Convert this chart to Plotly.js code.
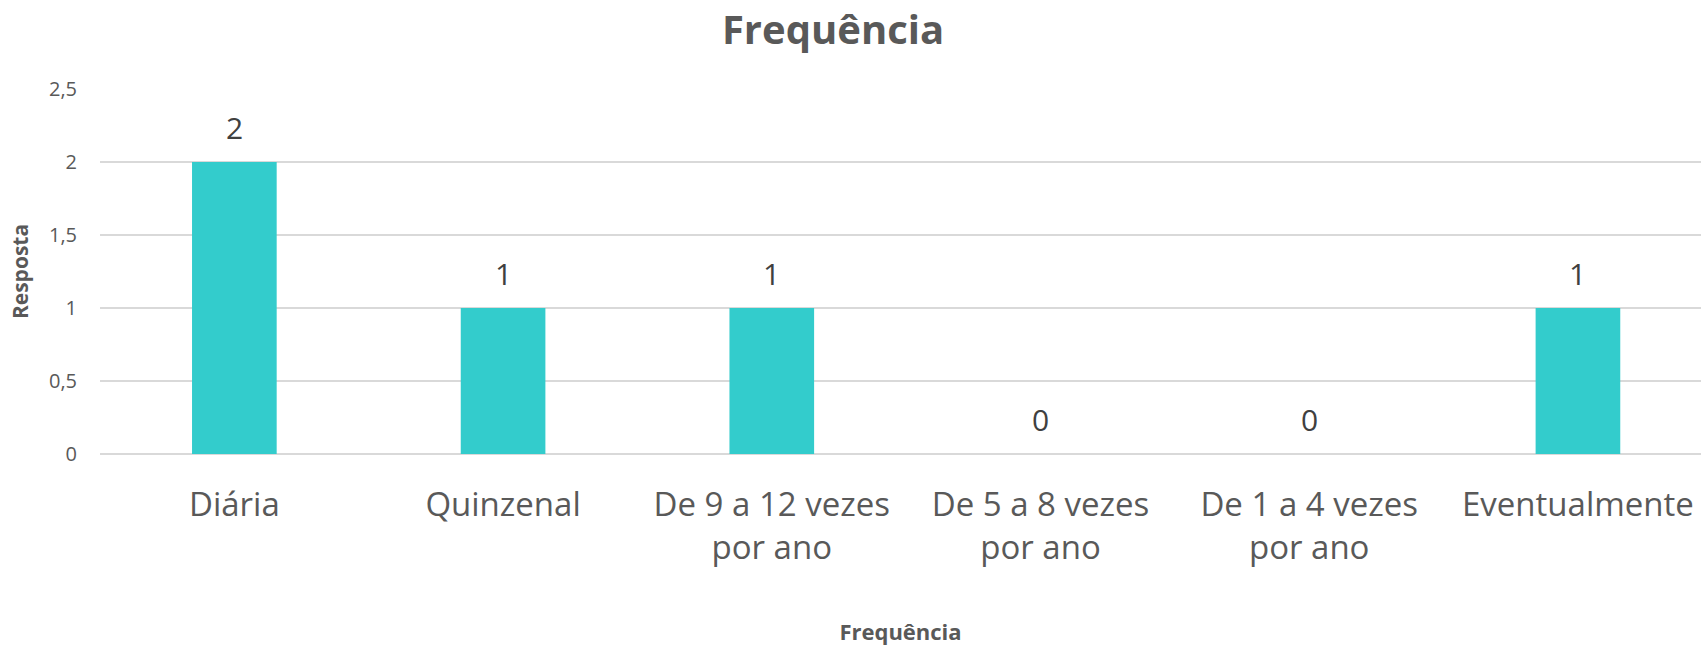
<!DOCTYPE html>
<html>
<head>
<meta charset="utf-8">
<script src="https://cdn.plot.ly/plotly-3.0.1.min.js"></script>
<style>html,body{margin:0;padding:0;background:#fff;}#chart{width:1701px;height:647px;}</style>
</head>
<body>
<div id="chart"></div>
<script>
const categories = ['Diária', 'Quinzenal', 'De 9 a 12 vezes<br>por ano', 'De 5 a 8 vezes<br>por ano', 'De 1 a 4 vezes<br>por ano', 'Eventualmente'];
const values = [2, 1, 1, 0, 0, 1];
const yTicks = [0, 0.5, 1, 1.5, 2, 2.5];

const FONT = 'Open Sans, Noto Sans, sans-serif';
const GREY = '#595959';

const trace = {
  type: 'bar',
  x: categories,
  y: values,
  marker: {color: '#33CCCC'},
  hoverinfo: 'none'
};

const annotations = categories.map((c, i) => ({
  x: c, y: values[i], xref: 'x', yref: 'y',
  text: String(values[i]),
  showarrow: false, yanchor: 'bottom', yshift: 12,
  font: {family: FONT, size: 30, color: '#404040'}
}));

const layout = {
  width: 1701, height: 647,
  margin: {l: 100, r: 0, t: 89, b: 193, pad: 0},
  paper_bgcolor: '#ffffff', plot_bgcolor: '#ffffff',
  separators: ',.',
  bargap: 0.685,
  showlegend: false,
  title: {
    text: 'Frequência',
    font: {family: FONT, size: 40, color: GREY, weight: 'bold'},
    xref: 'container', x: 833/1701, xanchor: 'center',
    yref: 'container', y: 1 - 30/647, yanchor: 'middle'
  },
  xaxis: {
    type: 'category',
    range: [-0.5, 5.458],
    showgrid: false, zeroline: false, showline: false, ticks: '',
    tickfont: {family: FONT, size: 33, color: GREY},
    ticklabelstandoff: 28,
    automargin: false,
    title: {text: 'Frequência', font: {family: FONT, size: 22, color: GREY, weight: 'bold'}, standoff: 56}
  },
  yaxis: {
    range: [0, 2.5],
    tickvals: yTicks,
    showgrid: true, gridcolor: '#d9d9d9', gridwidth: 2,
    zeroline: true, zerolinecolor: '#d9d9d9', zerolinewidth: 2,
    showline: false, ticks: '',
    tickfont: {family: FONT, size: 20, color: GREY},
    ticklabelstandoff: 22,
    automargin: false,
    title: {text: 'Resposta', font: {family: FONT, size: 21, color: GREY, weight: 'bold'}, standoff: 14}
  },
  annotations: annotations
};

Plotly.newPlot('chart', [trace], layout, {displayModeBar: false, staticPlot: true});
</script>
</body>
</html>
